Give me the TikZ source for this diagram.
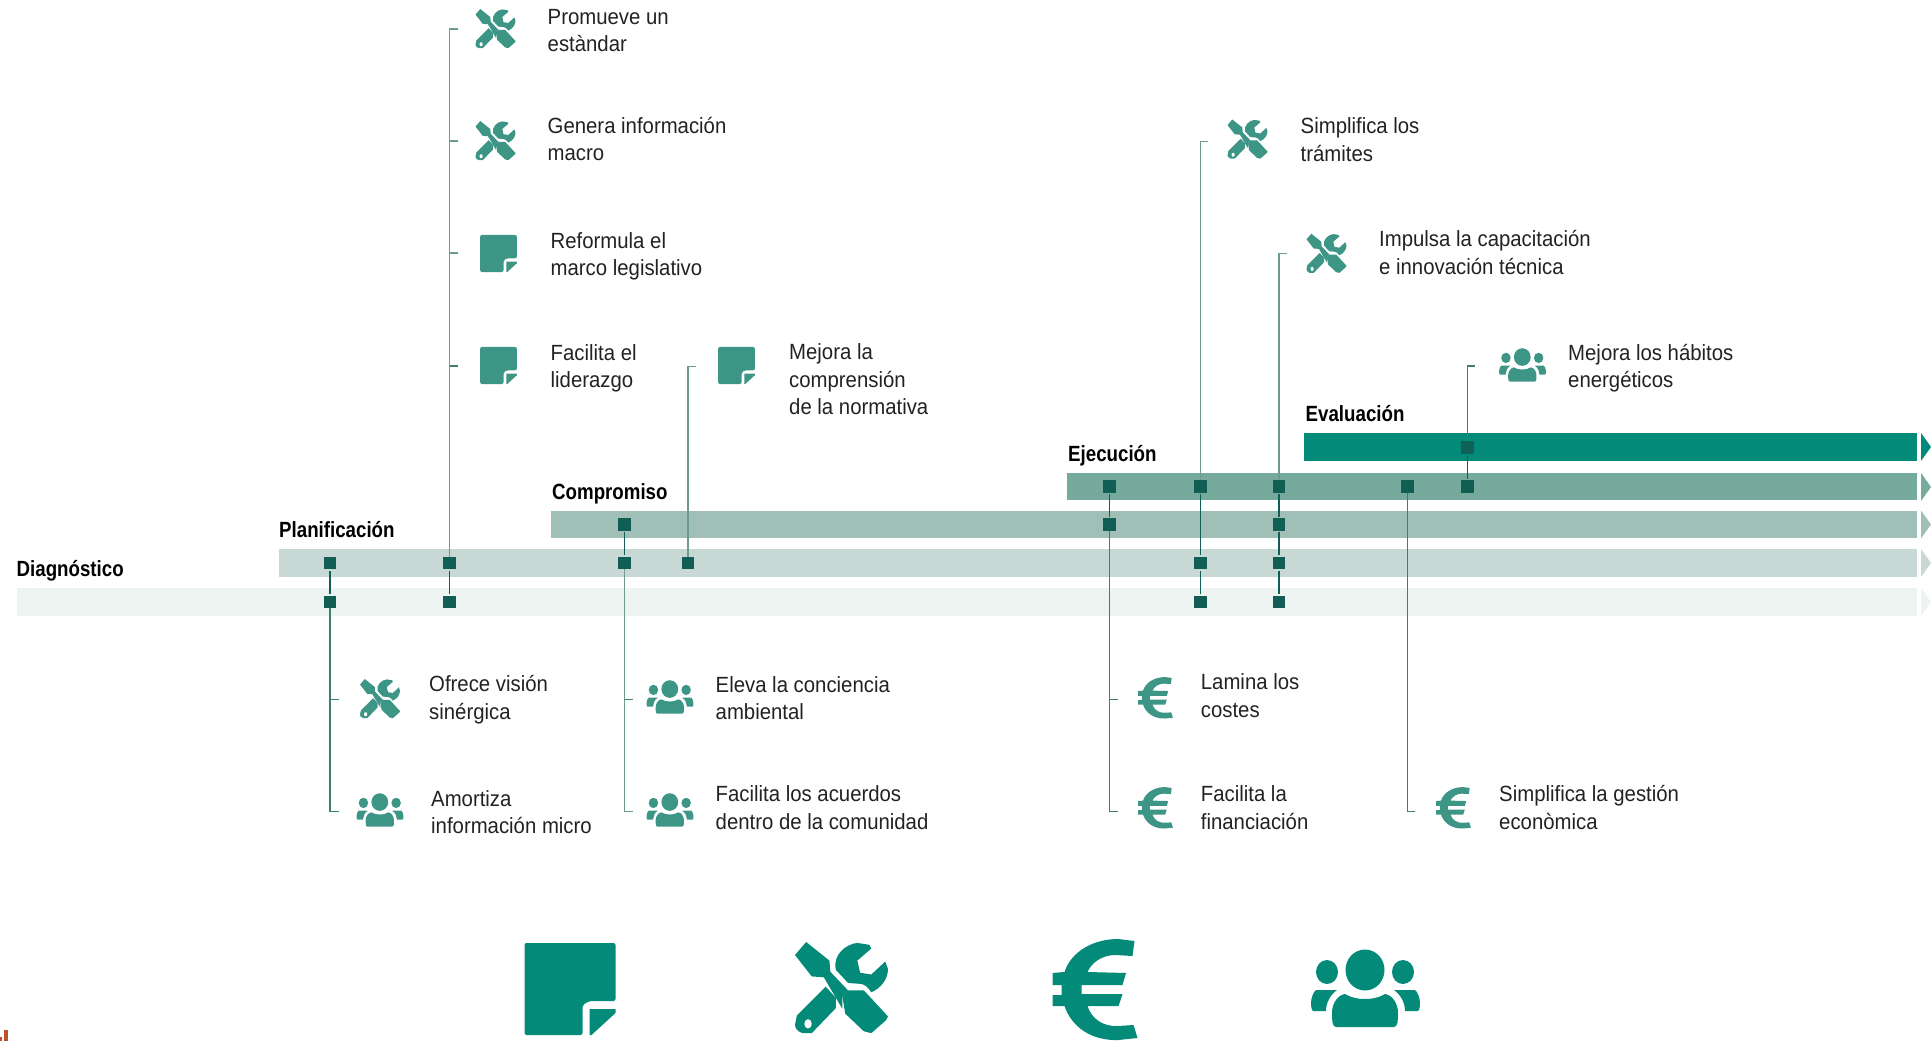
\documentclass[tikz,border=0pt]{standalone}
\usepackage{fontspec}
\setmainfont[FakeStretch=0.925]{Liberation Sans}
\newfontfamily\lblbold[FakeStretch=0.85]{Liberation Sans Bold}
\definecolor{barA}{HTML}{EDF3F1}
\definecolor{barB}{HTML}{C8D8D5}
\definecolor{barC}{HTML}{A0BFB6}
\definecolor{barD}{HTML}{75AA9C}
\definecolor{barE}{HTML}{038A78}
\definecolor{dotc}{HTML}{115E54}
\definecolor{stemlight}{HTML}{6F9A92}
\definecolor{stemdark}{HTML}{3F7D74}
\definecolor{iconsmall}{HTML}{3D9585}
\definecolor{textc}{HTML}{222222}
\definecolor{rust}{HTML}{C0502A}
\tikzset{
  dotnode/.style={rectangle,fill=dotc,draw=none,minimum width=12.5pt,minimum height=12.5pt,inner sep=0pt},
  link/.style={draw=dotc,line width=1.5pt,shorten >=1.5pt,shorten <=1.5pt},
  stemL/.style={draw=stemlight,line width=1.4pt},
  stemD/.style={draw=stemdark,line width=1.2pt},
  lbl/.style={anchor=base west,align=left,inner sep=0pt,text=textc,font=\fontsize{22}{27.5}\selectfont},
  phase/.style={anchor=base west,inner sep=0pt,text=black,font=\lblbold\fontsize{22}{27.5}\selectfont},
  notepic/.pic={
    \begin{scope}[shift={(-45.5,-46)}]
      \fill[pic actions,rounded corners=2pt] (0,0) -- (91,0) -- (91,58) -- (65,58) -- (58,62) -- (58,92) -- (0,92) -- cycle;
      \fill[pic actions] (65,66) -- (91,66) -- (91,70) -- (67,92) -- (65,92) -- cycle;
    \end{scope}},
  toolspic/.pic={
    \begin{scope}[shift={(-50,-50)}]
      \fill[pic actions] (12,0) -- (0,14) -- (18,37) -- (31,38) -- (51,72) -- (51,59) -- (57,52) -- (38,32) -- (37,20) -- cycle;
      \fill[pic actions] (57,52) -- (74,52) -- (100,80) -- (98,84) -- (82,98) -- (74,96) -- (54,77) -- (51,59) -- cycle;
      \fill[pic actions] (44,30) .. controls (40,14) and (55,2) .. (67,1) -- (80,3) -- (82,7) -- (67,20) -- (70,33) -- (82,35) -- (97,21) -- (100,29) .. controls (100,40) and (92,50) .. (82,54) .. controls (78,48) and (74,45) .. (70,45) -- (57,44) -- cycle;
      \fill[pic actions] (33,48) -- (44,60) -- (44,71) -- (18,98) -- (8,98) .. controls (2,96) and (0,92) .. (0,89) -- (2,79) -- cycle;
      \fill[white] (14,88) ellipse [x radius=4,y radius=5];
    \end{scope}},
  europic/.pic={
    \begin{scope}[shift={(-43.5,-51)}]
      \fill[pic actions] (67,0) -- (83,2) -- (81,17) -- (64,16) .. controls (50,16) and (40,24) .. (36,33) -- (74.5,34) -- (71,46) -- (30,46) -- (30,55) -- (71,55) -- (67,67) -- (36,67) .. controls (40,80) and (52,88) .. (67,87) -- (82,86) -- (86,99) -- (67,101) .. controls (40,102) and (20,88) .. (13,67) -- (1,67) -- (1,56) -- (10,56) -- (10,46) -- (1,46) -- (1,34) -- (13,33) .. controls (20,12) and (42,0) .. (67,0) -- cycle;
    \end{scope}},
  peoplepic/.pic={
    \begin{scope}[shift={(-55.5,-39.5)}]
      \fill[pic actions] (55,21) ellipse [x radius=19.5,y radius=20.5];
      \fill[pic actions] (17,23) ellipse [x radius=11,y radius=12];
      \fill[pic actions] (93,23) ellipse [x radius=11,y radius=12];
      \fill[pic actions] (26,78) .. controls (22,78) and (22,70) .. (22,64) .. controls (22,54) and (28,46) .. (35,45) .. controls (42,49) and (48,50) .. (55,50) .. controls (62,50) and (68,49) .. (75,45) .. controls (82,46) and (88,54) .. (88,64) .. controls (88,70) and (88,78) .. (84,78) -- cycle;
      \fill[pic actions] (6,41) -- (27,41) .. controls (20,46) and (16,54) .. (16,62) -- (3,62) .. controls (0,60) and (0,46) .. (6,41) -- cycle;
      \fill[pic actions] (105,41) -- (84,41) .. controls (91,46) and (95,54) .. (95,62) -- (108,62) .. controls (111,60) and (111,46) .. (105,41) -- cycle;
    \end{scope}}
}
\begin{document}
\begin{tikzpicture}[x=1pt,y=-1pt]
\useasboundingbox (0,0) rectangle (1931,1041);
% bars
\fill[barA] (16.5,588.2) rectangle (1917,616);
\fill[barA] (1921,588) -- (1931,602) -- (1921,616) -- cycle;
\fill[barB] (279,549.2) rectangle (1917,577);
\fill[barB] (1921,549) -- (1931,563) -- (1921,577) -- cycle;
\fill[barC] (551,510.7) rectangle (1917,538.2);
\fill[barC] (1921,510.5) -- (1931,524.5) -- (1921,538.5) -- cycle;
\fill[barD] (1067,473) rectangle (1917,500);
\fill[barD] (1921,473) -- (1931,487) -- (1921,501) -- cycle;
\fill[barE] (1304,433) rectangle (1917,461);
\fill[barE] (1921,433) -- (1931,447) -- (1921,461) -- cycle;
% phase labels
\node[phase] (lDiag) at (16.5,576) {Diagnóstico};
\node[phase] (lPlan) at (279,537.5) {Planificación};
\node[phase] (lComp) at (552,499.5) {Compromiso};
\node[phase] (lEjec) at (1068,461) {Ejecución};
\node[phase] (lEval) at (1305.5,421.5) {Evaluación};
% square markers
\node[dotnode] (d1) at (330,602) {};
\node[dotnode] (d2) at (449.5,602) {};
\node[dotnode] (d3) at (1200.5,602) {};
\node[dotnode] (d4) at (1279,602) {};
\node[dotnode] (p1) at (330,563) {};
\node[dotnode] (p2) at (449.5,563) {};
\node[dotnode] (p3) at (624.5,563) {};
\node[dotnode] (p4) at (688,563) {};
\node[dotnode] (p5) at (1200.5,563) {};
\node[dotnode] (p6) at (1279,563) {};
\node[dotnode] (c1) at (624.5,524.5) {};
\node[dotnode] (c2) at (1109.5,524.5) {};
\node[dotnode] (c3) at (1279,524.5) {};
\node[dotnode] (j1) at (1109.5,486.5) {};
\node[dotnode] (j2) at (1200.5,486.5) {};
\node[dotnode] (j3) at (1279,486.5) {};
\node[dotnode] (j4) at (1407.5,486.5) {};
\node[dotnode] (j5) at (1467.5,486.5) {};
\node[dotnode,fill=dotc!90!barE] (e1) at (1467.5,447.7) {};
% links between markers
\draw[link] (p1) -- (d1);
\draw[link] (p2) -- (d2);
\draw[link] (c1) -- (p3);
\draw[link] (j1) -- (c2);
\draw[link] (j2) -- (p5);
\draw[link] (p5) -- (d3);
\draw[link] (j3) -- (c3);
\draw[link] (c3) -- (p6);
\draw[link] (p6) -- (d4);
\draw[link] (j5) -- (e1);
% free coordinates
\coordinate (a1) at (330,699.3);   \coordinate (a1t) at (338.5,699.3);
\coordinate (a2) at (330,811.7);   \coordinate (a2t) at (338.5,811.7);
\coordinate (b1) at (449.5,29);    \coordinate (b1t) at (458,29);
\coordinate (b2) at (449.5,141);   \coordinate (b2t) at (458,141);
\coordinate (b3) at (449.5,253);   \coordinate (b3t) at (458,253);
\coordinate (b4) at (449.5,366);   \coordinate (b4t) at (458,366);
\coordinate (g1) at (624.5,699.3); \coordinate (g1t) at (633,699.3);
\coordinate (g2) at (624.5,811.7); \coordinate (g2t) at (633,811.7);
\coordinate (m1) at (688,366.7);   \coordinate (m1t) at (696,366.7);
\coordinate (k1) at (1109.5,699.3);  \coordinate (k1t) at (1118,699.3);
\coordinate (k2) at (1109.5,811.7);  \coordinate (k2t) at (1118,811.7);
\coordinate (s1) at (1200.5,141.6);  \coordinate (s1t) at (1208,141.6);
\coordinate (s2) at (1279,253.7);\coordinate (s2t) at (1287,253.7);
\coordinate (u1) at (1407.5,811.7);  \coordinate (u1t) at (1415,811.7);
\coordinate (v1) at (1467.5,366);    \coordinate (v1t) at (1475,366);
% stems
\draw[stemD] (d1) -- (a2) -- (a2t);
\draw[stemD] (a1) -- (a1t);
\draw[stemL] (p2) -- (b1) -- (b1t);
\draw[stemL] (b2) -- (b2t);
\draw[stemL] (b3) -- (b3t);
\draw[stemD] (b4) -- (b4t);
\draw[stemL] (p3) -- (g2) -- (g2t);
\draw[stemD] (g1) -- (g1t);
\draw[stemL] (p4) -- (m1) -- (m1t);
\draw[stemD] (c2) -- (k2) -- (k2t);
\draw[stemD] (k1) -- (k1t);
\draw[stemL] (j2) -- (s1) -- (s1t);
\draw[stemL] (j3) -- (s2) -- (s2t);
\draw[stemD] (j4) -- (u1) -- (u1t);
\draw[stemD] (e1) -- (v1) -- (v1t);
% small icons
\pic[scale=.4,fill=iconsmall] at (495.5,29) {toolspic};
\pic[scale=.4,fill=iconsmall] at (495.5,141) {toolspic};
\pic[scale=.404,fill=iconsmall] at (498.5,253.5) {notepic};
\pic[scale=.404,fill=iconsmall] at (498.5,365.5) {notepic};
\pic[scale=.404,fill=iconsmall] at (736.5,365.5) {notepic};
\pic[scale=.4,fill=iconsmall] at (1247.5,139.5) {toolspic};
\pic[scale=.4,fill=iconsmall] at (1326.5,253.7) {toolspic};
\pic[scale=.43,fill=iconsmall] at (1522.5,365) {peoplepic};
\pic[scale=.4,fill=iconsmall] at (380,699) {toolspic};
\pic[scale=.43,fill=iconsmall] at (380,810) {peoplepic};
\pic[scale=.43,fill=iconsmall] at (670,697) {peoplepic};
\pic[scale=.43,fill=iconsmall] at (670,810) {peoplepic};
\pic[scale=.41,fill=iconsmall] at (1155.5,698) {europic};
\pic[scale=.41,fill=iconsmall] at (1155.5,808) {europic};
\pic[scale=.41,fill=iconsmall] at (1453.5,808) {europic};
% large icons
\pic[fill=barE] at (570,989) {notepic};
\pic[scale=.93,fill=barE] at (841.5,988.5) {toolspic};
\pic[fill=barE] at (1095,990) {europic};
\pic[fill=barE] at (1365.5,988.5) {peoplepic};
% texts
\node[lbl] (t1) at (547.5,52) {Promueve un\\estàndar};
\node[lbl] (t2) at (547.5,160.5) {Genera información\\macro};
\node[lbl] (t3) at (550.5,275.5) {Reformula el\\marco legislativo};
\node[lbl] (t4) at (550.5,387.5) {Facilita el\\liderazgo};
\node[lbl] (t5) at (789,414.5) {Mejora la\\comprensión\\de la normativa};
\node[lbl] (t6) at (1300.5,161) {Simplifica los\\trámites};
\node[lbl] (t7) at (1379,274) {Impulsa la capacitación\\e innovación técnica};
\node[lbl] (t8) at (1568,387.5) {Mejora los hábitos\\energéticos};
\node[lbl] (t9) at (429,719.2) {Ofrece visión\\sinérgica};
\node[lbl] (t10) at (431,833.5) {Amortiza\\información micro};
\node[lbl] (t11) at (715.5,719.5) {Eleva la conciencia\\ambiental};
\node[lbl] (t12) at (715.5,829) {Facilita los acuerdos\\dentro de la comunidad};
\node[lbl] (t13) at (1200.7,717) {Lamina los\\costes};
\node[lbl] (t14) at (1200.7,829) {Facilita la\\financiación};
\node[lbl] (t15) at (1499,829) {Simplifica la gestión\\econòmica};
% cropped mark at the bottom edge
\fill[rust] (4,1030) rectangle (8,1041);
\fill[rust] (0,1037) rectangle (2,1041);
\end{tikzpicture}
\end{document}
